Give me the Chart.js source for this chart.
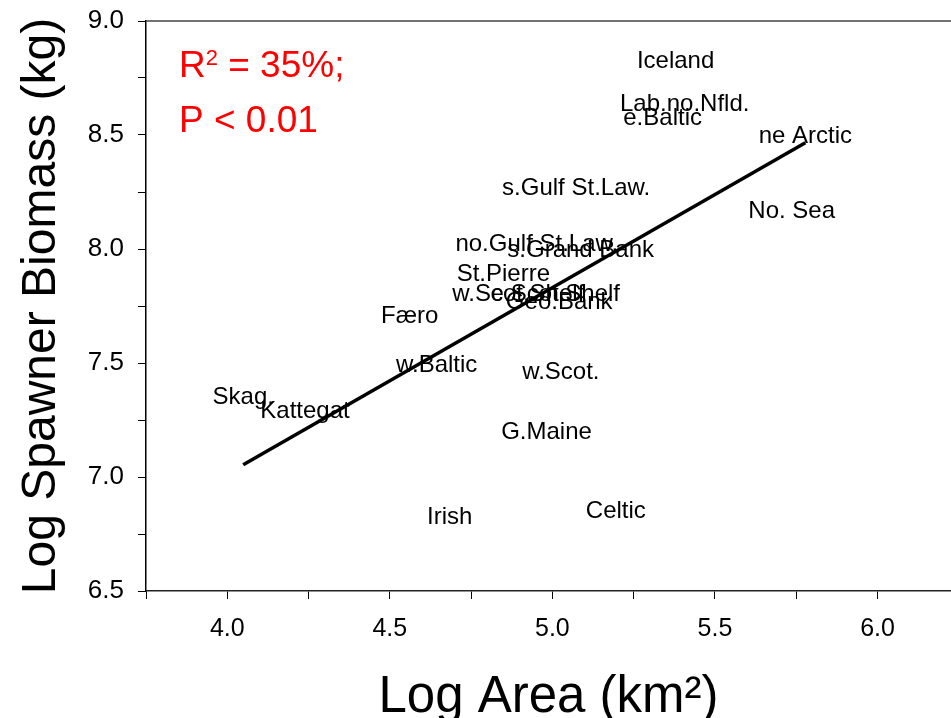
<!DOCTYPE html>
<html>
<head>
<meta charset="utf-8">
<title>Log Spawner Biomass vs Log Area</title>
<script src="https://cdn.jsdelivr.net/npm/chart.js@4.4.1/dist/chart.umd.min.js"></script>
<style>
  body { margin: 0; background: #fff; }
  #wrap { width: 951px; height: 718px; }
</style>
</head>
<body>
<div id="wrap"><canvas id="scatter" width="951" height="718"></canvas></div>
<script>
//Stocks (label centre = data point)
let stockNames = ['Iceland', 'Lab.no.Nfld.', 'e.Baltic', 'ne Arctic', 's.Gulf St.Law.',
  'No. Sea', 'no.Gulf St.Law.', 's.Grand Bank', 'St.Pierre', 'w.Scot.Shelf',
  'e.Scot.Shelf', 'Geo.Bank', 'Færo', 'w.Baltic', 'w.Scot.', 'Skag.', 'Kattegat',
  'G.Maine', 'Irish', 'Celtic'];
let logArea = [5.379, 5.407, 5.339, 5.778, 5.073,
  5.736, 4.952, 5.087, 4.849, 4.895,
  5.009, 5.021, 4.561, 4.644, 5.026, 4.049, 4.239,
  4.982, 4.684, 5.195];
let logBiomass = [8.822, 8.636, 8.572, 8.494, 8.266,
  8.163, 8.020, 7.992, 7.889, 7.799,
  7.799, 7.768, 7.704, 7.489, 7.461, 7.351, 7.290,
  7.196, 6.825, 6.851];

//Fitted regression line, from smallest to largest area
let fitArea = [4.049, 5.778];
let fitBiomass = [7.054, 8.466];

//Ticks (minor ones get no label)
let xTicks = [3.75, 4.0, 4.25, 4.5, 4.75, 5.0, 5.25, 5.5, 5.75, 6.0];
let xTickLabels = ['', '4.0', '', '4.5', '', '5.0', '', '5.5', '', '6.0'];
let yTicks = [6.5, 6.75, 7.0, 7.25, 7.5, 7.75, 8.0, 8.25, 8.5, 8.75, 9.0];
let yTickLabels = ['6.5', '', '7.0', '', '7.5', '', '8.0', '', '8.5', '', '9.0'];

Chart.defaults.font.family = "'Liberation Sans', Arial, Helvetica, sans-serif";
Chart.defaults.color = '#000';

//Writes each stock name where its point sits
let stockLabels = {
  id: 'stockLabels',
  afterDatasetsDraw(chart) {
    let ctx = chart.ctx;
    let meta = chart.getDatasetMeta(0);
    ctx.save();
    ctx.font = "24px 'Liberation Sans', Arial, sans-serif";
    ctx.fillStyle = '#000';
    ctx.textAlign = 'center';
    ctx.textBaseline = 'middle';
    meta.data.forEach(function(pt, i) {
      ctx.fillText(stockNames[i], pt.x, pt.y);
    });
    ctx.restore();
  }
};

//Top frame line and the red R2 / P note
let frameAndNote = {
  id: 'frameAndNote',
  afterDraw(chart) {
    let ctx = chart.ctx;
    let a = chart.chartArea;
    ctx.save();
    ctx.strokeStyle = '#444';
    ctx.lineWidth = 1.5;
    ctx.beginPath();
    ctx.moveTo(a.left, a.top);
    ctx.lineTo(a.right, a.top);
    ctx.stroke();

    ctx.fillStyle = '#ff0000';
    ctx.textAlign = 'left';
    ctx.textBaseline = 'alphabetic';
    let x = a.left + 33;
    ctx.font = "37px 'Liberation Sans', Arial, sans-serif";
    ctx.fillText('R', x, a.top + 56);
    let w = ctx.measureText('R').width;
    ctx.font = "22px 'Liberation Sans', Arial, sans-serif";
    ctx.fillText('2', x + w, a.top + 44);
    let w2 = ctx.measureText('2').width;
    ctx.font = "37px 'Liberation Sans', Arial, sans-serif";
    ctx.fillText(' = 35%;', x + w + w2, a.top + 56);
    ctx.fillText('P < 0.01', x, a.top + 111);
    ctx.restore();
  }
};

let scatterCanvas = document.getElementById('scatter').getContext('2d');

let scatter = new Chart(scatterCanvas, {
  type: 'scatter',
  data: {
    datasets: [{
      label: 'Stocks',
      data: logArea.map(function(x, i) { return {x: x, y: logBiomass[i]}; }),
      pointRadius: 0,
      pointHoverRadius: 0
    }, {
      label: 'Fit',
      data: fitArea.map(function(x, i) { return {x: x, y: fitBiomass[i]}; }),
      showLine: true,
      borderColor: '#000',
      borderWidth: 3.5,
      pointRadius: 0,
      fill: false
    }]
  },
  options: {
    responsive: false,
    animation: false,
    layout: { padding: { top: 21, right: 0, bottom: 0, left: 0 } },
    plugins: {
      legend: { display: false },
      tooltip: { enabled: false }
    },
    scales: {
      x: {
        type: 'linear',
        min: 3.75,
        max: 6.226,
        afterBuildTicks: function(scale) {
          scale.ticks = xTicks.map(function(v) { return {value: v}; });
        },
        afterFit: function(scale) {
          scale.height = 127;
          scale.paddingLeft = 0;
          scale.paddingRight = 0;
        },
        ticks: {
          autoSkip: false,
          maxRotation: 0,
          padding: 15,
          font: { size: 25 },
          callback: function(value, index) { return xTickLabels[index]; }
        },
        grid: { drawOnChartArea: false, tickLength: 8, tickColor: '#000' },
        border: { color: '#222', width: 1.5 },
        title: {
          display: true,
          text: 'Log Area (km²)',
          font: { size: 51, lineHeight: 1 },
          padding: { top: 0, bottom: -5 }
        }
      },
      y: {
        type: 'linear',
        min: 6.5,
        max: 9.0,
        afterBuildTicks: function(scale) {
          scale.ticks = yTicks.map(function(v) { return {value: v}; });
        },
        afterFit: function(scale) {
          scale.width = 146;
          scale.paddingTop = 0;
          scale.paddingBottom = 0;
        },
        ticks: {
          autoSkip: false,
          padding: 14,
          font: { size: 26 },
          callback: function(value, index) { return yTickLabels[index]; }
        },
        grid: { drawOnChartArea: false, tickLength: 8, tickColor: '#000' },
        border: { color: '#000', width: 1.5 },
        title: {
          display: true,
          text: 'Log Spawner Biomass (kg)',
          font: { size: 48 },
          padding: { top: 13, bottom: 0 }
        }
      }
    }
  },
  plugins: [stockLabels, frameAndNote]
});
</script>
</body>
</html>
